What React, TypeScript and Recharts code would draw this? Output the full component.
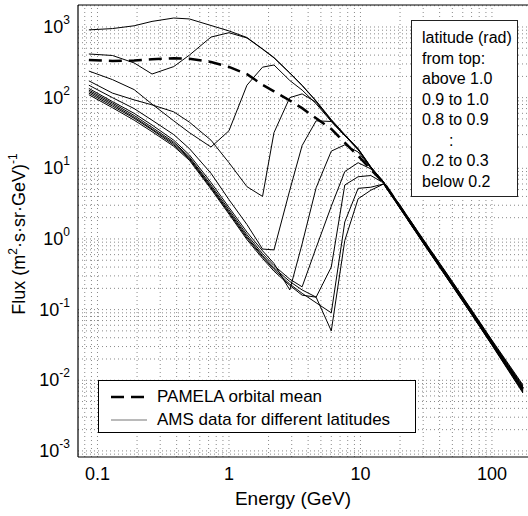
import { LineChart, Line, XAxis, YAxis, ReferenceLine, Legend } from "recharts";

// energy grid shared by all curves (GeV)
const energyGev = [0.086, 0.13, 0.19, 0.26, 0.38, 0.5, 0.73, 1.0, 1.37, 1.8, 2.2, 2.9, 3.6, 4.6, 6.0, 7.6, 9.6, 12, 15, 20, 30, 50, 70, 100, 172];

// AMS flux per latitude band, (m^2 s sr GeV)^-1
const fluxAbove10 = [910, 950, 1040, 1200, 1340, 1300, 1050, 880, 710, 490, 370, 225, 150, 90, 49, 30, 19, 10.5, 6.4, 3.0, 0.99, 0.25, 0.099, 0.037, 0.0086];
const flux09to10 = [415, 395, 310, 216, 275, 400, 720, 830, 700, 485, 365, 222, 148, 89, 48, 29.5, 18.8, 10.4, 6.35, 2.95, 0.97, 0.244, 0.097, 0.036, 0.0083];
const flux08to09 = [238, 180, 130, 81, 47, 32, 20, 34, 150, 270, 290, 175, 128, 82, 46, 29, 18.5, 10.3, 6.3, 2.9, 0.95, 0.238, 0.094, 0.035, 0.008];
const flux07to08 = [173, 116, 93, 79, 63, 45, 25, 12, 5.5, 4.0, 32, 100, 113, 86, 47, 29, 18.4, 10.2, 6.3, 2.86, 0.94, 0.234, 0.093, 0.0345, 0.0078];
const flux06to07 = [150, 100, 70, 48, 30, 19, 8.5, 3.6, 1.6, 0.72, 0.7, 4.9, 21, 47, 46, 29, 18.4, 10.2, 6.3, 2.83, 0.925, 0.23, 0.091, 0.0338, 0.0076];
const flux05to06 = [135, 88, 60, 41, 25, 15.5, 6.3, 2.8, 1.25, 0.68, 0.45, 0.19, 0.85, 5.3, 17.5, 21.5, 17, 10, 6.3, 2.8, 0.915, 0.227, 0.09, 0.0333, 0.0074];
const flux04to05 = [128, 84, 56, 38, 23.5, 14.5, 5.8, 2.6, 1.15, 0.62, 0.42, 0.27, 0.21, 0.75, 2.9, 9, 12, 9.8, 6.3, 2.78, 0.9, 0.224, 0.089, 0.0328, 0.0072];
const flux03to04 = [122, 80, 53, 36, 22.5, 14, 5.5, 2.45, 1.08, 0.58, 0.39, 0.25, 0.19, 0.15, 0.4, 5.8, 7.6, 7.9, 6.2, 2.75, 0.89, 0.22, 0.087, 0.0322, 0.007];
const flux02to03 = [116, 76, 51, 35, 21.5, 13.5, 5.3, 2.35, 1.03, 0.56, 0.37, 0.23, 0.17, 0.125, 0.09, 1.74, 5.2, 5.4, 6.0, 2.72, 0.88, 0.218, 0.086, 0.0318, 0.0068];
const fluxBelow02 = [110, 72, 48, 33, 20.5, 13, 5.1, 2.25, 0.98, 0.53, 0.35, 0.22, 0.16, 0.15, 0.05, 0.95, 3.7, 4.9, 6.0, 2.7, 0.87, 0.215, 0.085, 0.0313, 0.0066];

// PAMELA orbital mean
const pamelaMean = [340, 330, 335, 350, 362, 355, 320, 272, 215, 152, 123, 91, 71, 51, 36, 23, 15, 9.6, 6.3, 2.85, 0.93, 0.232, 0.092, 0.034, 0.0076];

const xTicks = [0.1, 1, 10, 100];
const yTicks = [1e-3, 1e-2, 1e-1, 1, 10, 100, 1000];
const xDomain = [0.0711, 188];
const yDomain = [8.2e-4, 2048];

const latitudeRows = ["latitude (rad)", "from top:", "above 1.0", "0.9 to 1.0", "0.8 to 0.9", ":", "0.2 to 0.3", "below 0.2"];

const amsSeries = [fluxAbove10, flux09to10, flux08to09, flux07to08, flux06to07, flux05to06, flux04to05, flux03to04, flux02to03, fluxBelow02];

const FONT = "'Liberation Sans', Arial, Helvetica, sans-serif";

const toPoints = (flux: number[]) => energyGev.map((e, i) => ({ e, f: flux[i] }));

// 1..9 x 10^k between min and max, for the dotted log grid
function logGrid(min: number, max: number) {
  const out: number[] = [];
  for (let p = Math.floor(Math.log10(min)); p <= Math.ceil(Math.log10(max)); p++) {
    for (let m = 1; m <= 9; m++) {
      const v = m * Math.pow(10, p);
      if (v > min && v < max) out.push(v);
    }
  }
  return out;
}

const XTick = ({ x, y, payload }: any) => (
  <text x={x} y={y + 15} textAnchor="middle" fontSize={18} fontFamily={FONT} fill="#000">
    {String(payload.value)}
  </text>
);

const YTick = ({ x, y, payload }: any) => {
  const exp = Math.round(Math.log10(payload.value));
  return (
    <text x={x} y={y + 6} textAnchor="end" fontSize={18} fontFamily={FONT} fill="#000">
      10
      <tspan dy={-9} fontSize={12}>
        {String(exp)}
      </tspan>
    </text>
  );
};

const LegendBox = () => (
  <div
    style={{
      position: "relative",
      width: 318,
      height: 53,
      boxSizing: "border-box",
      border: "1px solid #000",
      background: "#fff",
      fontFamily: FONT,
      fontSize: 17,
      color: "#000",
    }}
  >
    <svg width={40} height={53} style={{ position: "absolute", left: 10, top: 0 }}>
      <line x1={2} x2={38} y1={16} y2={16} stroke="#000" strokeWidth={2.5} strokeDasharray="13 7" />
      <line x1={2} x2={38} y1={39} y2={39} stroke="#777" strokeWidth={1.2} />
    </svg>
    <div style={{ position: "absolute", left: 58, top: 5, lineHeight: "22px", whiteSpace: "nowrap" }}>
      PAMELA orbital mean
    </div>
    <div style={{ position: "absolute", left: 58, top: 28, lineHeight: "22px", whiteSpace: "nowrap" }}>
      AMS data for different latitudes
    </div>
  </div>
);

export default function App() {
  const vGrid = logGrid(xDomain[0], xDomain[1]);
  const hGrid = logGrid(yDomain[0], yDomain[1]);

  return (
    <div style={{ position: "absolute", left: 0, top: 0, width: 528, height: 516, background: "#fff" }}>
      <LineChart width={528} height={516} margin={{ top: 5, right: 0, bottom: 0, left: 0 }}>
        <XAxis
          dataKey="e"
          type="number"
          scale="log"
          domain={xDomain}
          allowDataOverflow
          ticks={xTicks}
          interval={0}
          height={59}
          tickLine={false}
          tickSize={6}
          tickMargin={2}
          axisLine={{ stroke: "#000", strokeWidth: 1.2 }}
          tick={<XTick />}
          label={{
            content: () => (
              <text x={293} y={505} textAnchor="middle" fontSize={19} fontFamily={FONT} fill="#000">
                Energy (GeV)
              </text>
            ),
          }}
        />
        <YAxis
          type="number"
          scale="log"
          domain={yDomain}
          allowDataOverflow
          ticks={yTicks}
          interval={0}
          width={78}
          tickLine={false}
          tickSize={6}
          tickMargin={2}
          axisLine={{ stroke: "#000", strokeWidth: 1.2 }}
          tick={<YTick />}
          label={{
            content: () => (
              <text
                x={25}
                y={234}
                transform="rotate(-90 25 234)"
                textAnchor="middle"
                fontSize={18}
                fontFamily={FONT}
                fill="#000"
              >
                Flux (m
                <tspan dy={-8} fontSize={12}>2</tspan>
                <tspan dy={8}>·s·sr·GeV)</tspan>
                <tspan dy={-8} fontSize={12}>-1</tspan>
              </text>
            ),
          }}
        />

        {vGrid.map((v) => (
          <ReferenceLine key={"v" + v} x={v} stroke="#8a8a8a" strokeDasharray="1 3" />
        ))}
        {hGrid.map((v) => (
          <ReferenceLine key={"h" + v} y={v} stroke="#8a8a8a" strokeDasharray="1 3" />
        ))}
        <ReferenceLine y={yDomain[1]} stroke="#000" strokeWidth={1.2} ifOverflow="visible" />

        {amsSeries.map((flux, i) => (
          <Line
            key={"ams" + i}
            data={toPoints(flux)}
            dataKey="f"
            type="linear"
            stroke="#000"
            strokeWidth={1}
            dot={false}
            activeDot={false}
            legendType="none"
            isAnimationActive={false}
          />
        ))}
        <Line
          data={toPoints(pamelaMean)}
          dataKey="f"
          type="linear"
          stroke="#000"
          strokeWidth={2.5}
          strokeDasharray="13 7"
          dot={false}
          activeDot={false}
          legendType="none"
          isAnimationActive={false}
        />

        <Legend
          layout="horizontal"
          verticalAlign="middle"
          align="center"
          wrapperStyle={{ left: 98, top: 380, width: 318, height: 53 }}
          content={() => <LegendBox />}
        />
      </LineChart>

      <div
        style={{
          position: "absolute",
          left: 411,
          top: 20,
          width: 107,
          height: 177,
          boxSizing: "border-box",
          border: "1.2px solid #222",
          background: "#fff",
          fontFamily: FONT,
          fontSize: 16,
          lineHeight: "20.5px",
          paddingTop: 7,
          paddingLeft: 10,
          color: "#000",
          whiteSpace: "nowrap",
        }}
      >
        {latitudeRows.map((row) => (
          <div key={row} style={{ paddingLeft: row === ":" ? 27 : 0 }}>
            {row}
          </div>
        ))}
      </div>
    </div>
  );
}
